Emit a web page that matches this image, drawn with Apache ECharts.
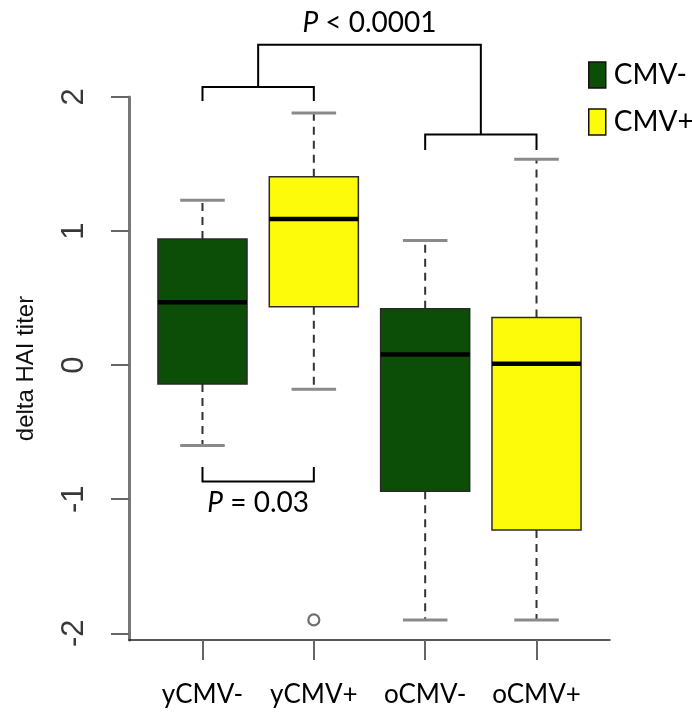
<!DOCTYPE html>
<html>
<head>
<meta charset="utf-8">
<title>delta HAI titer by CMV status</title>
<script src="https://cdn.jsdelivr.net/npm/echarts@6/dist/echarts.min.js"></script>
<style>
  html, body { margin: 0; padding: 0; background: #fff; }
  #chart { width: 692px; height: 714px; }
</style>
</head>
<body>
<div id="chart"></div>
<script>
// Groups along the x axis and their CMV status
const groups = ['yCMV-', 'yCMV+', 'oCMV-', 'oCMV+'];
const cmvStatus = ['CMV-', 'CMV+', 'CMV-', 'CMV+'];

// Five-number summaries of delta HAI titer per group
const lowerWhisker = [-0.60, -0.18, -1.90, -1.90];
const lowerQuartile = [-0.14, 0.435, -0.94, -1.23];
const medians = [0.47, 1.09, 0.08, 0.01];
const upperQuartile = [0.94, 1.405, 0.42, 0.355];
const upperWhisker = [1.23, 1.88, 0.93, 1.535];

// Outlying points: [group position, value]
const outliers = [[2, -1.90]];

// Y-axis tick values
const yTicks = [-2, -1, 0, 1, 2];

// Significance brackets: x span (group positions), bar level, leg ends
const bracketFrom = [1.5, 1, 3, 1];
const bracketTo = [3.5, 2, 4, 2];
const bracketLevel = [2.39, 2.075, 1.72, -0.868];
const bracketLegFrom = [2.075, 1.97, 1.605, -0.76];
const bracketLegTo = [1.72, 1.97, 1.605, -0.76];

// P-value annotations: text and anchor in data units
const pValueText = ['P < 0.0001', 'P = 0.03'];
const pValueX = [2.5, 1.5];
const pValueY = [2.55, -1.03];

const statusColors = { 'CMV-': '#0c4e07', 'CMV+': '#fefb0a' };
const BOX_WIDTH = 0.8;
const LABEL_FONT = 'Lato, "Open Sans", sans-serif';
const AXIS_FONT = '"Liberation Sans", Arial, sans-serif';

function boxData(status) {
  const out = [];
  groups.forEach((g, i) => {
    if (cmvStatus[i] === status) {
      out.push([i + 1, lowerWhisker[i], lowerQuartile[i], medians[i], upperQuartile[i], upperWhisker[i]]);
    }
  });
  return out;
}

function renderBox(params, api) {
  const x = api.value(0);
  const lo = api.coord([x, api.value(1)]);
  const q1 = api.coord([x, api.value(2)]);
  const md = api.coord([x, api.value(3)]);
  const q3 = api.coord([x, api.value(4)]);
  const hi = api.coord([x, api.value(5)]);
  const w = api.size([BOX_WIDTH, 0])[0];
  const cx = lo[0];
  const whisker = { stroke: '#333', lineWidth: 2, lineDash: [8, 6] };
  const cap = { stroke: '#8a8a8a', lineWidth: 3 };
  return {
    type: 'group',
    children: [
      { type: 'line', shape: { x1: cx, y1: q3[1], x2: cx, y2: hi[1] }, style: whisker },
      { type: 'line', shape: { x1: cx, y1: q1[1], x2: cx, y2: lo[1] }, style: whisker },
      { type: 'line', shape: { x1: cx - w / 4, y1: hi[1], x2: cx + w / 4, y2: hi[1] }, style: cap },
      { type: 'line', shape: { x1: cx - w / 4, y1: lo[1], x2: cx + w / 4, y2: lo[1] }, style: cap },
      { type: 'rect', shape: { x: cx - w / 2, y: q3[1], width: w, height: q1[1] - q3[1] },
        style: { fill: api.visual('color'), stroke: '#2a2a2a', lineWidth: 1.5 } },
      { type: 'line', shape: { x1: cx - w / 2, y1: md[1], x2: cx + w / 2, y2: md[1] },
        style: { stroke: '#000', lineWidth: 4.5 } }
    ]
  };
}

function renderBracket(params, api) {
  const x1 = api.value(0), x2 = api.value(1), lvl = api.value(2);
  const a = api.coord([x1, api.value(3)]);
  const b = api.coord([x1, lvl]);
  const c = api.coord([x2, lvl]);
  const d = api.coord([x2, api.value(4)]);
  return {
    type: 'polyline',
    shape: { points: [a, b, c, d] },
    style: { stroke: '#000', lineWidth: 2, fill: null }
  };
}

function renderPValue(params, api) {
  const p = api.coord([api.value(0), api.value(1)]);
  const raw = pValueText[params.dataIndex];
  const rest = raw.slice(1);
  return {
    type: 'text',
    x: p[0],
    y: p[1],
    style: {
      text: '{i|P}{n|' + rest + '}',
      align: 'center',
      verticalAlign: 'middle',
      rich: {
        i: { fontStyle: 'italic', fontSize: 28, fontFamily: LABEL_FONT, fill: '#000' },
        n: { fontSize: 28, fontFamily: LABEL_FONT, fill: '#000' }
      }
    }
  };
}

const chart = echarts.init(document.getElementById('chart'), null, { renderer: 'canvas' });

chart.setOption({
  animation: false,
  backgroundColor: '#fff',
  grid: { left: 129, top: 97, width: 481, height: 543, containLabel: false, outerBoundsMode: 'none' },
  legend: {
    orient: 'vertical',
    left: 583,
    top: 56,
    icon: 'rect',
    itemWidth: 17,
    itemHeight: 26,
    itemGap: 19,
    data: ['CMV-', 'CMV+'],
    itemStyle: { borderColor: '#111', borderWidth: 1.5 },
    textStyle: { fontFamily: LABEL_FONT, fontSize: 28, color: '#000', padding: [0, 0, 0, 3] },
    selectedMode: false
  },
  xAxis: {
    type: 'value',
    min: 0.34,
    max: 4.66,
    splitLine: { show: false },
    axisLine: { show: true, onZero: false, lineStyle: { color: '#222', width: 1.5 } },
    axisTick: { show: true, length: 20, customValues: [1, 2, 3, 4], lineStyle: { color: '#666', width: 2 } },
    axisLabel: {
      customValues: [1, 2, 3, 4],
      formatter: v => groups[Math.round(v) - 1] || '',
      margin: 42,
      fontFamily: LABEL_FONT,
      fontSize: 26,
      color: '#000'
    }
  },
  yAxis: {
    type: 'value',
    min: -2.05,
    max: 2,
    name: 'delta HAI titer',
    nameLocation: 'middle',
    nameRotate: 90,
    nameGap: 91,
    nameMoveOverlap: false,
    nameTextStyle: { fontFamily: AXIS_FONT, fontSize: 24, color: '#111' },
    splitLine: { show: false },
    axisLine: { show: true, onZero: false, lineStyle: { color: '#777', width: 3 } },
    axisTick: { show: true, length: 18, customValues: yTicks, lineStyle: { color: '#666', width: 2 } },
    axisLabel: {
      customValues: yTicks,
      rotate: 90,
      margin: 39,
      fontFamily: AXIS_FONT,
      fontSize: 31,
      color: '#383838'
    }
  },
  series: [
    {
      name: 'CMV-',
      type: 'custom',
      renderItem: renderBox,
      itemStyle: { color: statusColors['CMV-'] },
      encode: { x: 0, y: [1, 2, 3, 4, 5] },
      data: boxData('CMV-'),
      silent: true
    },
    {
      name: 'CMV+',
      type: 'custom',
      renderItem: renderBox,
      itemStyle: { color: statusColors['CMV+'] },
      encode: { x: 0, y: [1, 2, 3, 4, 5] },
      data: boxData('CMV+'),
      silent: true
    },
    {
      name: 'outliers',
      type: 'scatter',
      symbol: 'circle',
      symbolSize: 11,
      itemStyle: { color: 'rgba(255,255,255,0)', borderColor: '#4a4a4a', borderWidth: 2.2 },
      data: outliers,
      silent: true,
      z: 5
    },
    {
      name: 'brackets',
      type: 'custom',
      renderItem: renderBracket,
      clip: false,
      encode: { x: [0, 1], y: [2, 3, 4] },
      data: bracketFrom.map((f, i) => [f, bracketTo[i], bracketLevel[i], bracketLegFrom[i], bracketLegTo[i]]),
      silent: true
    },
    {
      name: 'pvalues',
      type: 'custom',
      renderItem: renderPValue,
      clip: false,
      encode: { x: 0, y: 1 },
      data: pValueX.map((x, i) => [x, pValueY[i]]),
      silent: true
    }
  ]
});
</script>
</body>
</html>
